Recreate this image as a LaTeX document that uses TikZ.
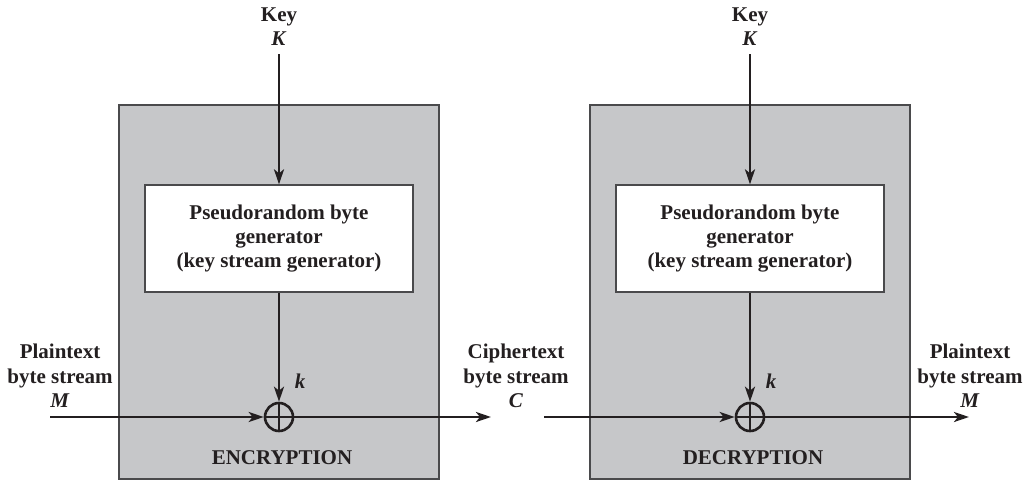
\documentclass[tikz,border=0pt]{standalone}
\usepackage{fontspec}
\setmainfont{Liberation Serif}
\usetikzlibrary{arrows.meta}
\definecolor{panelgray}{HTML}{C6C7C9}
\definecolor{ink}{HTML}{231F20}
\definecolor{frame}{HTML}{4A4A4C}
\tikzset{
  lbl/.style={font=\fontsize{21}{24.5}\selectfont\bfseries, text=ink, align=center, inner sep=1pt},
  panel/.style={draw=frame, line width=1.5pt, fill=panelgray, minimum width=320pt, minimum height=374pt, inner sep=0pt},
  genbox/.style={draw=frame, line width=1.3pt, fill=white, minimum width=268pt, minimum height=107pt, align=center,
    font=\fontsize{21}{24}\selectfont\bfseries, text=ink},
  xorc/.style={circle, draw=ink, line width=2.6pt, minimum size=28pt, inner sep=0pt,
    path picture={\draw[ink, line width=2.6pt]
      (path picture bounding box.north) -- (path picture bounding box.south)
      (path picture bounding box.west) -- (path picture bounding box.east);}},
  flow/.style={draw=ink, line width=2.7pt, -{Stealth[length=15pt,width=10pt,inset=4pt]}},
}
\begin{document}
\begin{tikzpicture}[x=1pt,y=-1pt]
\useasboundingbox (0,0) rectangle (1034,480);

% ---- encryption side ----
\node[panel] (encP) at (279,292) {};
\node[genbox] (encG) at (279,238.5) {Pseudorandom byte\\generator\\(key stream generator)};
\node[xorc] (encX) at (279,417) {};
\node[lbl, anchor=south] (encK) at (279,47) {Key\\\textit{K}};
\node[lbl, anchor=base] (encKs) at (300,388) {\textit{k}};
\node[lbl, anchor=base] (encT) at (282,464) {ENCRYPTION};
\node[lbl, anchor=south] (ptIn) at (60,409) {Plaintext\\byte stream\\\textit{M}};
\node[lbl, anchor=south] (ctMid) at (516,409) {Ciphertext\\byte stream\\\textit{C}};
\coordinate (encIn) at (50,417);
\coordinate (encOut) at (491,417);

\draw[flow] ([yshift=-7pt]encK.south) -- (encG.north);
\draw[flow] (encG.south) -- (encX.north);
\draw[flow] (encIn) -- (encX.west);
\draw[flow] (encX.east) -- (encOut);

% ---- decryption side ----
\node[panel] (decP) at (750,292) {};
\node[genbox] (decG) at (750,238.5) {Pseudorandom byte\\generator\\(key stream generator)};
\node[xorc] (decX) at (750,417) {};
\node[lbl, anchor=south] (decK) at (750,47) {Key\\\textit{K}};
\node[lbl, anchor=base] (decKs) at (771,388) {\textit{k}};
\node[lbl, anchor=base] (decT) at (753,464) {DECRYPTION};
\node[lbl, anchor=south] (ptOut) at (970,409) {Plaintext\\byte stream\\\textit{M}};
\coordinate (decIn) at (544,417);
\coordinate (decOut) at (969,417);

\draw[flow] ([yshift=-7pt]decK.south) -- (decG.north);
\draw[flow] (decG.south) -- (decX.north);
\draw[flow] (decIn) -- (decX.west);
\draw[flow] (decX.east) -- (decOut);
\end{tikzpicture}
\end{document}
